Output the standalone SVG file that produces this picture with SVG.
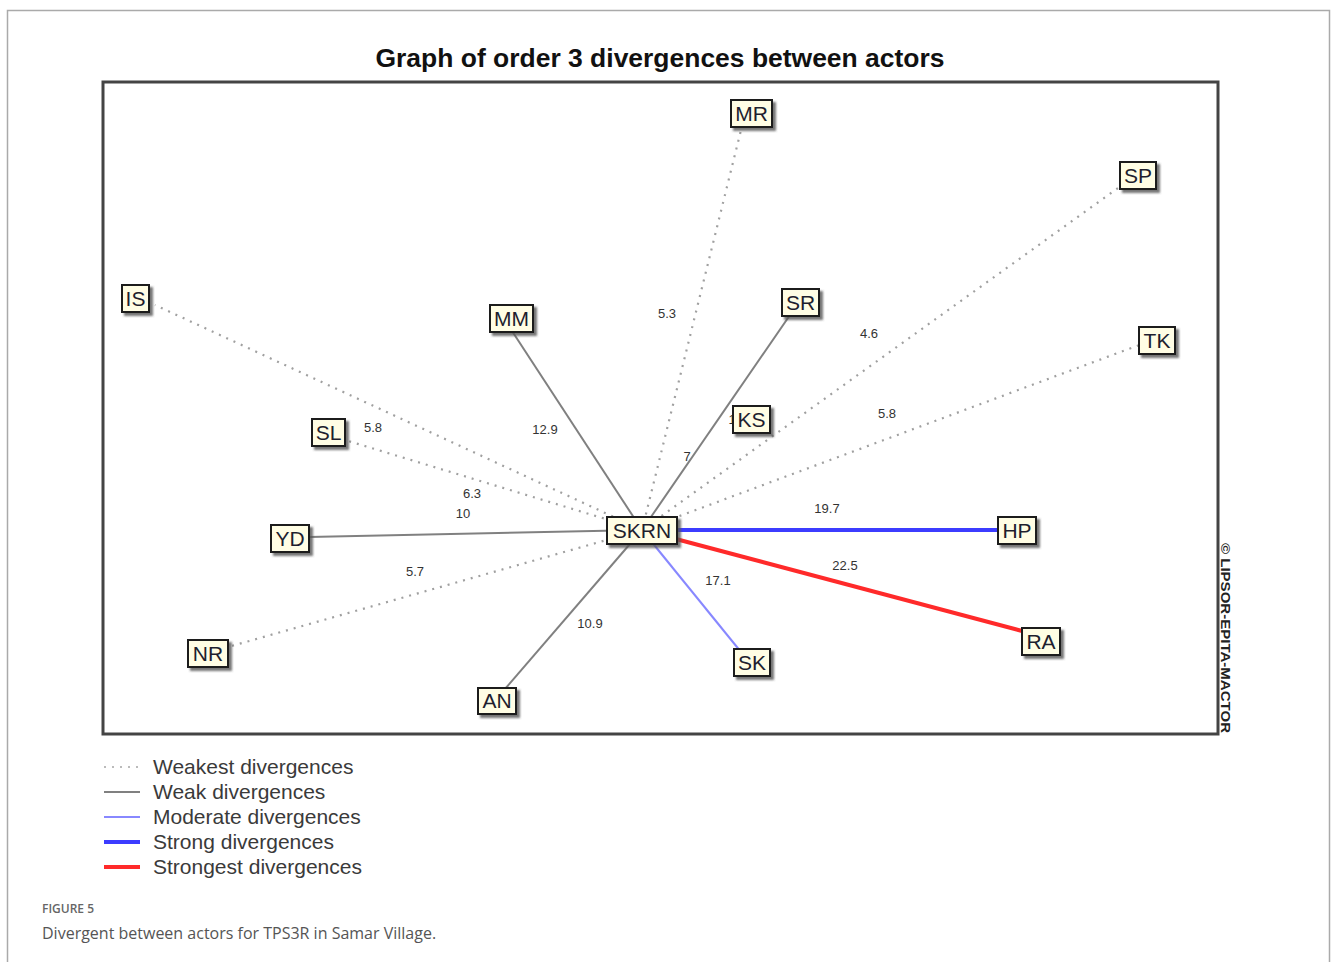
<svg xmlns="http://www.w3.org/2000/svg" width="1331" height="962" viewBox="0 0 1331 962">
<defs>
<filter id="sh" x="-30%" y="-30%" width="170%" height="170%">
<feDropShadow dx="3" dy="3" stdDeviation="1.2" flood-color="#555" flood-opacity="0.8"/>
</filter>
<style>
.box{fill:#fffde4;stroke:#1a1a1a;stroke-width:2;filter:url(#sh)}
.nt{font-family:"Liberation Sans",Arial,sans-serif;font-size:21px;fill:#1e1e2e;text-anchor:middle}
.lb{font-family:"Liberation Sans",Arial,sans-serif;font-size:13px;fill:#333;text-anchor:middle}
.weakest{stroke:#a0a0a0;stroke-width:2.2;stroke-dasharray:2 6;fill:none}
.weak{stroke:#808080;stroke-width:2;fill:none}
.moderate{stroke:#8888ff;stroke-width:2;fill:none}
.strong{stroke:#3c3cff;stroke-width:4;fill:none}
.strongest{stroke:#ff2a2a;stroke-width:4;fill:none}
.lg{font-family:"Liberation Sans",Arial,sans-serif;font-size:21px;fill:#3a3a3a}
</style>
</defs>
<rect width="1331" height="962" fill="#fff"/>
<path d="M7.5 962V10.5H1329.5V962" fill="none" stroke="#aaa" stroke-width="1.5"/>
<text x="660" y="67" font-family="Liberation Sans,Arial,sans-serif" font-weight="bold" font-size="26" fill="#111" text-anchor="middle" textLength="569" lengthAdjust="spacingAndGlyphs">Graph of order 3 divergences between actors</text>
<rect x="103" y="82" width="1115" height="652" fill="none" stroke="#444" stroke-width="3"/>
<text transform="translate(1221,543) rotate(90)" font-family="Liberation Sans,Arial,sans-serif" font-weight="bold" font-size="12" fill="#222" textLength="190" lengthAdjust="spacingAndGlyphs">© LIPSOR-EPITA-MACTOR</text>

<g id="connectors">
<line class="weakest" x1="642" y1="530" x2="744" y2="118"/>
<line class="weakest" x1="642" y1="530" x2="1125" y2="183"/>
<line class="weakest" x1="642" y1="530" x2="1142" y2="344"/>
<line class="weakest" x1="642" y1="530" x2="155" y2="305"/>
<line class="weakest" x1="642" y1="530" x2="345" y2="440"/>
<line class="weakest" x1="642" y1="530" x2="228" y2="647"/>
<line class="weak" x1="642" y1="530" x2="512" y2="331"/>
<line class="weak" x1="642" y1="530" x2="790" y2="315"/>
<line class="weak" x1="642" y1="530" x2="309" y2="537"/>
<line class="weak" x1="642" y1="530" x2="505" y2="689"/>
<line class="moderate" x1="642" y1="530" x2="741" y2="652"/>
<line class="strong" x1="642" y1="530" x2="1017" y2="530"/>
<line class="strongest" x1="642" y1="530" x2="1041" y2="636"/>
<text class="lb" x="667" y="318">5.3</text>
<text class="lb" x="869" y="338">4.6</text>
<text class="lb" x="887" y="418">5.8</text>
<text class="lb" x="373" y="432">5.8</text>
<text class="lb" x="545" y="434">12.9</text>
<text class="lb" x="687" y="461">7</text>
<text class="lb" x="472" y="498">6.3</text>
<text class="lb" x="463" y="518">10</text>
<text class="lb" x="827" y="513">19.7</text>
<text class="lb" x="845" y="570">22.5</text>
<text class="lb" x="415" y="576">5.7</text>
<text class="lb" x="718" y="585">17.1</text>
<text class="lb" x="590" y="628">10.9</text>
<text class="lb" x="732" y="424" text-anchor="end">1</text>
</g>

<g id="MR"><rect class="box" x="731" y="100" width="41" height="27"/><text class="nt" x="751.5" y="121">MR</text></g>
<g id="SP"><rect class="box" x="1120" y="162" width="36" height="27"/><text class="nt" x="1138" y="183">SP</text></g>
<g id="IS"><rect class="box" x="122" y="285" width="27" height="27"/><text class="nt" x="135.5" y="306">IS</text></g>
<g id="MM"><rect class="box" x="490" y="305" width="43" height="27"/><text class="nt" x="511.5" y="326">MM</text></g>
<g id="SR"><rect class="box" x="782" y="289" width="37" height="27"/><text class="nt" x="800.5" y="310">SR</text></g>
<g id="TK"><rect class="box" x="1139" y="327" width="36" height="27"/><text class="nt" x="1157" y="348">TK</text></g>
<g id="KS"><rect class="box" x="733" y="406" width="37" height="27"/><text class="nt" x="751.5" y="427">KS</text></g>
<g id="SL"><rect class="box" x="312" y="419" width="33" height="27"/><text class="nt" x="328.5" y="440">SL</text></g>
<g id="SKRN"><rect class="box" x="607" y="517" width="70" height="27"/><text class="nt" x="642" y="538">SKRN</text></g>
<g id="HP"><rect class="box" x="998" y="517" width="38" height="27"/><text class="nt" x="1017" y="538">HP</text></g>
<g id="YD"><rect class="box" x="271" y="525" width="38" height="27"/><text class="nt" x="290" y="546">YD</text></g>
<g id="RA"><rect class="box" x="1022" y="628" width="38" height="27"/><text class="nt" x="1041" y="649">RA</text></g>
<g id="SK"><rect class="box" x="734" y="649" width="36" height="27"/><text class="nt" x="752" y="670">SK</text></g>
<g id="NR"><rect class="box" x="188" y="640" width="40" height="27"/><text class="nt" x="208" y="661">NR</text></g>
<g id="AN"><rect class="box" x="478" y="688" width="38" height="26"/><text class="nt" x="497" y="708">AN</text></g>

<g id="legend">
<line class="weakest" x1="104" y1="767" x2="140" y2="767" style="stroke:#bbb"/>
<line class="weak" x1="104" y1="792" x2="140" y2="792"/>
<line class="moderate" x1="104" y1="817" x2="140" y2="817"/>
<line class="strong" x1="104" y1="842" x2="140" y2="842"/>
<line class="strongest" x1="104" y1="867" x2="140" y2="867"/>
<text class="lg" x="153" y="774">Weakest divergences</text>
<text class="lg" x="153" y="799">Weak divergences</text>
<text class="lg" x="153" y="824">Moderate divergences</text>
<text class="lg" x="153" y="849">Strong divergences</text>
<text class="lg" x="153" y="874">Strongest divergences</text>
</g>

<text x="42" y="913" font-family="Open Sans,Liberation Sans,sans-serif" font-weight="600" font-size="12" fill="#666">FIGURE 5</text>
<text x="42" y="939" font-family="Open Sans,Liberation Sans,sans-serif" font-size="16" fill="#555">Divergent between actors for TPS3R in Samar Village.</text>
</svg>
